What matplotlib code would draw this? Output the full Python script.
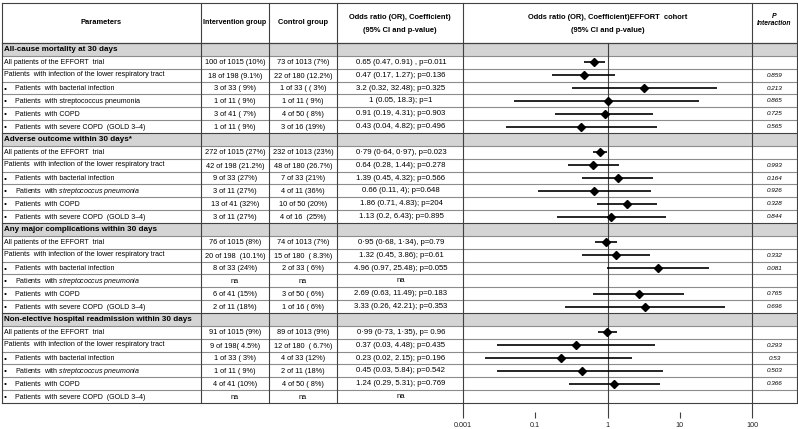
import numpy as np
import matplotlib
matplotlib.use("Agg")
import matplotlib.pyplot as plt

plt.rcParams['font.family'] = ['Liberation Sans', 'DejaVu Sans']
plt.rcParams['mathtext.fontset'] = 'custom'
plt.rcParams['mathtext.rm'] = 'Liberation Sans'
plt.rcParams['mathtext.it'] = 'Liberation Sans:italic'

# ---------------- data ----------------
section_titles = ["All-cause mortality at 30 days",
                  "Adverse outcome within 30 days*",
                  "Any major complications within 30 days",
                  "Non-elective hospital readmission within 30 days"]

row_params = ["All patients of the EFFORT  trial",
              "Patients  with infection of the lower respiratory tract",
              "Patients  with bacterial infection",
              "Patients  with streptococcus pneumonia",
              "Patients  with COPD",
              "Patients  with severe COPD  (GOLD 3\u20134)"]
row_params_italic = ["All patients of the EFFORT  trial",
                     "Patients  with infection of the lower respiratory tract",
                     "Patients  with bacterial infection",
                     "Patients  with $\\mathit{streptococcus\\ pneumonia}$",
                     "Patients  with COPD",
                     "Patients  with severe COPD  (GOLD 3\u20134)"]
row_bullet = [False, False, True, True, True, True]

intervention = [
    ["100 of 1015 (10%)", "18 of 198 (9.1%)", "3 of 33 ( 9%)", "1 of 11 ( 9%)", "3 of 41 ( 7%)", "1 of 11 ( 9%)"],
    ["272 of 1015 (27%)", "42 of 198 (21.2%)", "9 of 33 (27%)", "3 of 11 (27%)", "13 of 41 (32%)", "3 of 11 (27%)"],
    ["76 of 1015 (8%)", "20 of 198  (10.1%)", "8 of 33 (24%)", "na", "6 of 41 (15%)", "2 of 11 (18%)"],
    ["91 of 1015 (9%)", "9 of 198( 4.5%)", "1 of 33 ( 3%)", "1 of 11 ( 9%)", "4 of 41 (10%)", "na"],
]
control = [
    ["73 of 1013 (7%)", "22 of 180 (12.2%)", "1 of 33 ( ( 3%)", "1 of 11 ( 9%)", "4 of 50 ( 8%)", "3 of 16 (19%)"],
    ["232 of 1013 (23%)", "48 of 180 (26.7%)", "7 of 33 (21%)", "4 of 11 (36%)", "10 of 50 (20%)", "4 of 16  (25%)"],
    ["74 of 1013 (7%)", "15 of 180  ( 8.3%)", "2 of 33 ( 6%)", "na", "3 of 50 ( 6%)", "1 of 16 ( 6%)"],
    ["89 of 1013 (9%)", "12 of 180  ( 6.7%)", "4 of 33 (12%)", "2 of 11 (18%)", "4 of 50 ( 8%)", "na"],
]
or_text = [
    ["0.65 (0.47, 0.91) , p=0.011", "0.47 (0.17, 1.27); p=0.136", "3.2 (0.32, 32.48); p=0.325",
     "1 (0.05, 18.3); p=1", "0.91 (0.19, 4.31); p=0.903", "0.43 (0.04, 4.82); p=0.496"],
    ["0\u00b779 (0\u00b764, 0\u00b797), p=0.023", "0.64 (0.28, 1.44); p=0.278", "1.39 (0.45, 4.32); p=0.566",
     "0.66 (0.11, 4); p=0.648", "1.86 (0.71, 4.83); p=204", "1.13 (0.2, 6.43); p=0.895"],
    ["0\u00b795 (0\u00b768, 1\u00b734), p=0.79", "1.32 (0.45, 3.86); p=0.61", "4.96 (0.97, 25.48); p=0.055",
     "na", "2.69 (0.63, 11.49); p=0.183", "3.33 (0.26, 42.21); p=0.353"],
    ["0\u00b799 (0\u00b773, 1\u00b735), p= 0.96", "0.37 (0.03, 4.48); p=0.435", "0.23 (0.02, 2.15); p=0.196",
     "0.45 (0.03, 5.84); p=0.542", "1.24 (0.29, 5.31); p=0.769", "na"],
]
or_est = [[0.65, 0.47, 3.2, 1.0, 0.91, 0.43],
          [0.79, 0.64, 1.39, 0.66, 1.86, 1.13],
          [0.95, 1.32, 4.96, np.nan, 2.69, 3.33],
          [0.99, 0.37, 0.23, 0.45, 1.24, np.nan]]
or_lo = [[0.47, 0.17, 0.32, 0.05, 0.19, 0.04],
         [0.64, 0.28, 0.45, 0.11, 0.71, 0.2],
         [0.68, 0.45, 0.97, np.nan, 0.63, 0.26],
         [0.73, 0.03, 0.02, 0.03, 0.29, np.nan]]
or_hi = [[0.91, 1.27, 32.48, 18.3, 4.31, 4.82],
         [0.97, 1.44, 4.32, 4.0, 4.83, 6.43],
         [1.34, 3.86, 25.48, np.nan, 11.49, 42.21],
         [1.35, 4.48, 2.15, 5.84, 5.31, np.nan]]
p_interaction = [["", "0.859", "0.213", "0.865", "0.725", "0.565"],
                 ["", "0.993", "0.164", "0.926", "0.328", "0.844"],
                 ["", "0.332", "0.081", "", "0.765", "0.696"],
                 ["", "0.293", "0.53", "0.503", "0.366", ""]]

tick_values = [0.01, 0.1, 1, 10, 100]
tick_labels = ["0.001", "0.1", "1", "10", "100"]

headers = ["Parameters", "Intervention group", "Control group",
           "Odds ratio (OR), Coefficient)\n(95% CI and p-value)",
           "Odds ratio (OR), Coefficient)EFFORT  cohort\n(95% CI and p-value)"]

# ---------------- layout (pixels) ----------------
W, H = 798, 429
col_x = [2, 201, 269, 337, 463, 752, 797]
top, head_bot, tab_bot, axis_y = 3, 43, 403, 412
n_rows = 28
rh = (tab_bot - head_bot) / n_rows

fig = plt.figure(figsize=(W / 100, H / 100), dpi=100)
bg = fig.add_axes([0, 0, 1, 1])
bg.set_xlim(0, W)
bg.set_ylim(H, 0)
bg.axis('off')

hcol = '#8c8c8c'
vcol = '#404040'
gray = '#d4d4d4'

def yc(k):
    return head_bot + (k + 0.5) * rh

# section shading
for s in range(4):
    k = s * 7
    bg.add_patch(plt.Rectangle((col_x[0], head_bot + k * rh), col_x[-1] - col_x[0], rh,
                               facecolor=gray, edgecolor='none', zorder=0))

# horizontal lines
bg.plot([col_x[0], col_x[-1]], [top, top], color=vcol, lw=0.8, zorder=2)
bg.plot([col_x[0], col_x[-1]], [head_bot, head_bot], color=vcol, lw=0.9, zorder=2)
for k in range(1, n_rows + 1):
    y = head_bot + k * rh
    c = vcol if (k % 7 == 0 or k == n_rows) else hcol
    bg.plot([col_x[0], col_x[-1]], [y, y], color=c, lw=0.8, zorder=2)

# vertical lines
for i, x in enumerate(col_x):
    yb = axis_y if i in (4, 5) else tab_bot
    bg.plot([x, x], [top, yb], color=vcol, lw=0.8, zorder=2)

# headers
hfs = 5.4
bg.text(101.5, 23, headers[0], ha='center', va='center', fontsize=hfs, fontweight='bold')
bg.text(235, 23, headers[1], ha='center', va='center', fontsize=5.1, fontweight='bold')
bg.text(303, 23, headers[2], ha='center', va='center', fontsize=hfs, fontweight='bold')
for xc, txt in ((400, headers[3]), (608, headers[4])):
    l1, l2 = txt.split("\n")
    bg.text(xc, 17.5, l1, ha='center', va='center', fontsize=hfs, fontweight='bold')
    bg.text(xc, 30.5, l2, ha='center', va='center', fontsize=hfs, fontweight='bold')
bg.text(774.5, 16.5, "P", ha='center', va='center', fontsize=5.0, fontweight='bold', style='italic')
bg.text(774.5, 23.5, "Interaction", ha='center', va='center', fontsize=4.9, fontweight='bold', style='italic')

# body text
pfs, vfs, ofs, ifs = 5.0, 5.3, 5.6, 4.6
for s in range(4):
    k0 = s * 7
    bg.text(3.5, yc(k0), section_titles[s], ha='left', va='center', fontsize=5.8, fontweight='bold')
    for r in range(6):
        k = k0 + 1 + r
        y = yc(k)
        off = 0 if r == 0 else 1.0
        label = row_params[r] if s == 0 else row_params_italic[r]
        if row_bullet[r]:
            bg.text(3.5, y + off, "\u2022", ha='left', va='center', fontsize=6.0)
            bg.text(15, y + off, label, ha='left', va='center', fontsize=pfs)
        else:
            bg.text(3.5, y + (0 if r == 0 else -0.5), label, ha='left', va='center', fontsize=pfs)
        bg.text(235, y + off, intervention[s][r], ha='center', va='center', fontsize=vfs)
        bg.text(303, y + off, control[s][r], ha='center', va='center', fontsize=vfs)
        bg.text(401, y, or_text[s][r], ha='center', va='center', fontsize=ofs)
        if p_interaction[s][r]:
            bg.text(774.5, y, p_interaction[s][r], ha='center', va='center', fontsize=ifs, style='italic')

# ---------------- forest axes ----------------
ax = fig.add_axes([col_x[4] / W, 1 - tab_bot / H, (col_x[5] - col_x[4]) / W, (tab_bot - head_bot) / H])
ax.set_facecolor('none')
ax.set_xscale('log')
ax.set_xlim(0.01, 100)
ax.set_ylim(n_rows, 0)
for sp in ('top', 'left', 'right'):
    ax.spines[sp].set_visible(False)
ax.spines['bottom'].set_position(('outward', (axis_y - tab_bot) * 0.72))
ax.spines['bottom'].set_visible(False)
ax.set_yticks([])
ax.set_xticks(tick_values)
ax.set_xticklabels(tick_labels)
ax.xaxis.set_minor_locator(matplotlib.ticker.NullLocator())
ax.tick_params(axis='x', direction='out', length=4.5, width=0.8, color=vcol,
               labelsize=5.2, pad=2.5, labelcolor='#222222')

ax.axvline(1, ymin=-(axis_y - tab_bot) / (tab_bot - head_bot), ymax=1, color=vcol, lw=0.8,
           clip_on=False, zorder=1)

for s in range(4):
    for r in range(6):
        k = s * 7 + 1 + r
        est, lo, hi = or_est[s][r], or_lo[s][r], or_hi[s][r]
        if np.isnan(est):
            continue
        ax.plot([lo, hi], [k + 0.5, k + 0.5], color='black', lw=1.2, solid_capstyle='butt', zorder=3)
        ax.plot([est], [k + 0.5], marker='D', ms=4.5, color='black', zorder=4)

fig.savefig("out.png", dpi=100)
